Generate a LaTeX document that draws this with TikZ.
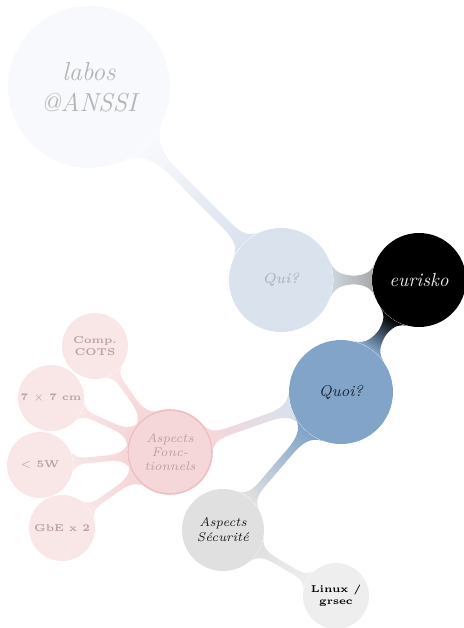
\documentclass[tikz,border=0pt]{standalone}
\usetikzlibrary{mindmap}

\definecolor{labosfill}{HTML}{F8F9FC}
\definecolor{quifill}{HTML}{DAE2EE}
\definecolor{quoifill}{HTML}{82A4C9}
\definecolor{quoipale}{HTML}{D9E1EC}
\definecolor{fonctfill}{HTML}{F5D6D9}
\definecolor{fonctedge}{HTML}{EDBFC3}
\definecolor{leaffill}{HTML}{F9E6E7}
\definecolor{securfill}{HTML}{E0E0E0}
\definecolor{linuxfill}{HTML}{EEEEEE}
\definecolor{fadedtext}{HTML}{B4B4B4}
\definecolor{quitext}{HTML}{A7ADB6}
\definecolor{pinktext}{HTML}{B9A0A3}
\definecolor{darktext}{HTML}{1A2535}
\definecolor{bargray}{HTML}{A9A9A9}
\definecolor{barqui}{HTML}{CDD4DC}

\tikzset{
  idea/.style={circle, inner sep=0pt, align=center},
  leaf/.style={idea, fill=leaffill, minimum size=33pt, text=pinktext,
    font=\fontsize{5}{6}\selectfont\bfseries},
  bar/.style={line width=5pt},
}

\begin{document}
\begin{tikzpicture}[x=0.5pt, y=-0.5pt]
  \useasboundingbox (0,0) rectangle (464,628);

  % concepts
  \node[idea, fill=labosfill, minimum size=81pt, text=fadedtext,
    font=\fontsize{13}{15.5}\selectfont\itshape] (labos) at (89,87) {labos\\@ANSSI};
  \node[idea, fill=quifill, minimum size=52pt, text=quitext,
    font=\fontsize{7.3}{9}\selectfont\itshape] (qui) at (281,280) {Qui?};
  \node[idea, fill=black, minimum size=47pt, text=white!93!black,
    font=\fontsize{9.5}{11}\selectfont\itshape] (eurisko) at (419,280) {eurisko};
  \node[idea, fill=quoifill, minimum size=52pt, text=darktext,
    font=\fontsize{7.8}{9}\selectfont\itshape] (quoi) at (341,392) {Quoi?};
  \node[idea, fill=fonctfill, draw=fonctedge, line width=0.8pt, minimum size=42pt,
    text=pinktext, font=\fontsize{6.3}{7}\selectfont\itshape] (fonct) at (170,452)
    {Aspects\\Fonc-\\tionnels};
  \node[idea, fill=securfill, minimum size=41pt, text=black!90,
    font=\fontsize{6.3}{7.5}\selectfont\itshape] (secur) at (223,530)
    {Aspects\\Sécurité};
  \node[idea, fill=linuxfill, minimum size=33pt, text=black,
    font=\fontsize{5}{6}\selectfont\bfseries] (linux) at (336,596) {Linux /\\grsec};

  % leaves of the functional aspects
  \node[leaf] (cots) at (95,346) {Comp.\\COTS};
  \node[leaf] (size) at (51,398) {7 $\times$ 7 cm};
  \node[leaf] (power) at (40,465) {$<$ 5W};
  \node[leaf] (gbe) at (62,528) {GbE x 2};

  % connections
  \path (labos) to[bar, circle connection bar switch color=from (labosfill) to (quifill)] (qui);
  \path (qui) to[bar, circle connection bar switch color=from (barqui) to (bargray)] (eurisko);
  \path (eurisko) to[bar, circle connection bar switch color=from (black) to (quoifill)] (quoi);
  \path (quoi) to[bar, circle connection bar switch color=from (quoipale) to (fonctfill)] (fonct);
  \path (quoi) to[bar, circle connection bar switch color=from (quoifill) to (securfill)] (secur);
  \path (secur) to[bar, circle connection bar switch color=from (securfill) to (linuxfill)] (linux);
  \path (fonct) to[bar, circle connection bar switch color=from (fonctfill) to (leaffill)] (cots);
  \path (fonct) to[bar, circle connection bar switch color=from (fonctfill) to (leaffill)] (size);
  \path (fonct) to[bar, circle connection bar switch color=from (fonctfill) to (leaffill)] (power);
  \path (fonct) to[bar, circle connection bar switch color=from (fonctfill) to (leaffill)] (gbe);
\end{tikzpicture}
\end{document}
